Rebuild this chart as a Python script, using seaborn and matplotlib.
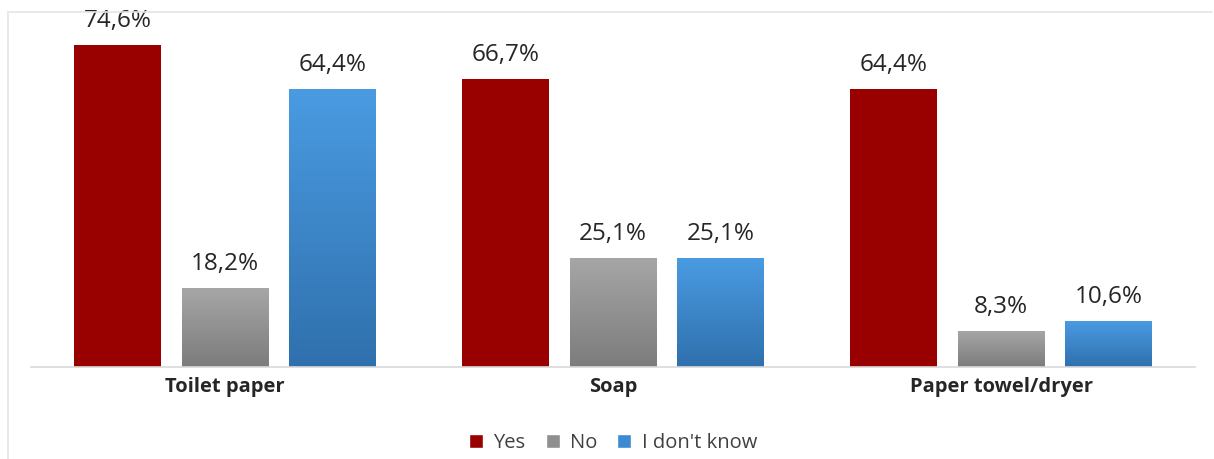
import numpy as np
import pandas as pd
import matplotlib
matplotlib.use("Agg")
import matplotlib.pyplot as plt
import seaborn as sns
from matplotlib.colors import LinearSegmentedColormap
from matplotlib.patches import Rectangle
from matplotlib.lines import Line2D

categories = ["Toilet paper", "Soap", "Paper towel/dryer"]
series = ["Yes", "No", "I don't know"]
yes_vals = [74.6, 66.7, 64.4]
no_vals = [18.2, 25.1, 8.3]
dk_vals = [64.4, 25.1, 10.6]

df = pd.DataFrame({
    "category": categories * 3,
    "answer": [s for s in series for _ in categories],
    "value": yes_vals + no_vals + dk_vals,
})

solid = {"Yes": "#990000", "No": "#929292", "I don't know": "#3b86cc"}
gradients = {
    "No": ("#a6a6a6", "#7c7c7c"),
    "I don't know": ("#4a9be2", "#2f70ad"),
}

sns.set_theme(style="white")
plt.rcParams["font.family"] = ["Open Sans", "DejaVu Sans"]

fig = plt.figure(figsize=(12.14, 4.59), dpi=100)
ax = fig.add_axes([31 / 1214, 1 - 367 / 459, 1164 / 1214, 355 / 459])

sns.barplot(data=df, x="category", y="value", hue="answer", order=categories,
            hue_order=series, palette=solid, width=0.83, gap=0.19,
            saturation=1, linewidth=0, legend=False, ax=ax, errorbar=None)

# gradient fills for the No / I don't know bars
containers = dict(zip(series, ax.containers))
for name, (top, bottom) in gradients.items():
    cmap = LinearSegmentedColormap.from_list(name, [bottom, top])
    grad = np.linspace(0, 1, 256).reshape(-1, 1)
    for bar in containers[name]:
        x0, y0 = bar.get_x(), bar.get_y()
        w, h = bar.get_width(), bar.get_height()
        bar.set_facecolor("none")
        bar.set_edgecolor("none")
        ax.imshow(grad, cmap=cmap, origin="lower", aspect="auto",
                  extent=(x0, x0 + w, y0, y0 + h), zorder=2)
ax.set_xlim(-0.5, 2.5)
ax.set_ylim(0, 82.3)

# value labels
for name in series:
    for bar in containers[name]:
        v = bar.get_height()
        ax.annotate(f"{v:.1f}".replace(".", ",") + "%",
                    (bar.get_x() + bar.get_width() / 2, v),
                    xytext=(0, 9), textcoords="offset points",
                    ha="center", va="bottom", fontsize=17.5,
                    color="#262626", clip_on=False, annotation_clip=False)

for s in ["top", "right", "left"]:
    ax.spines[s].set_visible(False)
ax.spines["bottom"].set_color("#d9d9d9")
ax.spines["bottom"].set_linewidth(1.2)
ax.set_yticks([])
ax.set_xlabel("")
ax.set_ylabel("")
ax.tick_params(axis="x", length=0, pad=7)
for lbl in ax.get_xticklabels():
    lbl.set_fontweight("bold")
    lbl.set_fontsize(14.5)
    lbl.set_color("#262626")

# legend
handles = [Rectangle((0, 0), 1, 1, facecolor=solid["Yes"]),
           Rectangle((0, 0), 1, 1, facecolor="#8f8f8f"),
           Rectangle((0, 0), 1, 1, facecolor="#3d8ad3")]
fig.legend(handles, series, loc="center", bbox_to_anchor=(0.505, 1 - 443 / 459),
           ncol=3, frameon=False, fontsize=14.5, handlelength=0.7,
           handleheight=0.7, handletextpad=0.5, columnspacing=1.0,
           labelcolor="#404040")

# chart area frame
fig.add_artist(Line2D([8 / 1214, 8 / 1214], [0, 1 - 12 / 459],
                      transform=fig.transFigure, color="#e3e6ea", lw=1.2))
fig.add_artist(Line2D([8 / 1214, 1212 / 1214], [1 - 12 / 459, 1 - 12 / 459],
                      transform=fig.transFigure, color="#e3e6ea", lw=1.2))

fig.savefig("out.png", dpi=100)
